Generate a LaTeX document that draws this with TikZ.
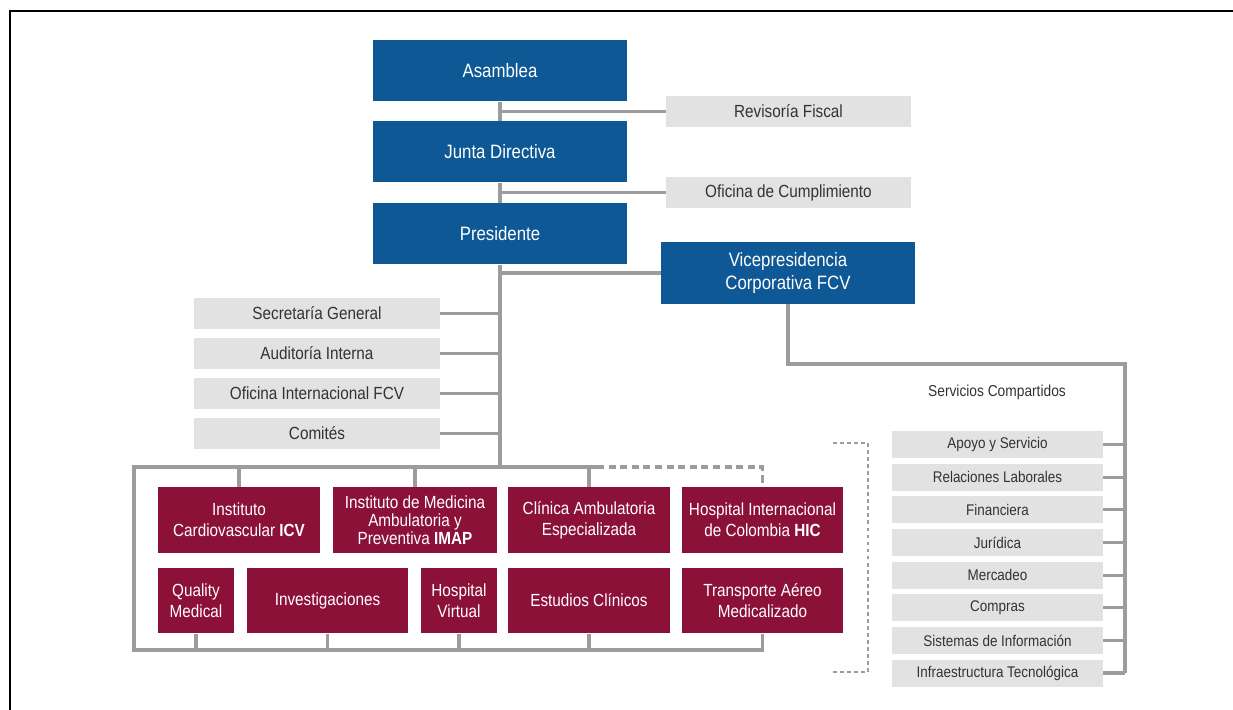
\documentclass[tikz,border=0pt]{standalone}
\usepackage{fontspec}
\setmainfont{Liberation Sans}[FakeStretch=0.87]
\usepackage{tikz}

\definecolor{fcvblue}{HTML}{0F5896}
\definecolor{fcvred}{HTML}{8C1139}
\definecolor{boxgray}{HTML}{E2E2E2}
\definecolor{linegray}{HTML}{9C9C9C}
\definecolor{textgray}{HTML}{333333}

\begin{document}
\begin{tikzpicture}[x=0.2mm, y=-0.2mm,
  govbox/.style={fill=fcvblue, text=white, inner sep=0pt, align=center,
    minimum width=50.8mm, minimum height=12.2mm, font=\fontsize{11}{13.5}\selectfont},
  staffbox/.style={fill=boxgray, text=textgray, inner sep=0pt,
    minimum width=49mm, minimum height=6.2mm, font=\fontsize{10}{12}\selectfont},
  unitbox/.style={fill=fcvred, text=white, inner sep=0pt, align=center,
    minimum width=32.4mm, minimum height=13.1mm, font=\fontsize{10}{11.8}\selectfont},
  sharedbox/.style={fill=boxgray, text=textgray, inner sep=0pt,
    minimum width=42.2mm, minimum height=5.4mm, font=\fontsize{8.8}{10}\selectfont},
  link/.style={draw=linegray, line width=1.8pt},
  dashlink/.style={link, dash pattern=on 4pt off 2.6pt},
  dotlink/.style={draw=linegray, line width=1.5pt, dash pattern=on 2.2pt off 1.8pt}]
\useasboundingbox (0,0) rectangle (1233,710);
\draw[line width=1.4pt] (1233,11) -- (10,11) -- (10,710);

% governing bodies
\node[govbox] (asamblea) at (500,71) {Asamblea};
\node[govbox] (junta) at (500,152) {Junta Directiva};
\node[govbox] (presidente) at (500,234) {Presidente};
\node[govbox] (vice) at (788,273) {Vicepresidencia\\Corporativa FCV};
\node[staffbox] (revisoria) at (788.5,111.5) {Revisoría Fiscal};
\node[staffbox] (cumplimiento) at (788.5,192.5) {Oficina de Cumplimiento};

% staff offices
\node[staffbox, minimum width=49.2mm] (secretaria) at (317,313.5) {Secretaría General};
\node[staffbox, minimum width=49.2mm] (auditoria) at (317,353.5) {Auditoría Interna};
\node[staffbox, minimum width=49.2mm] (internacional) at (317,393.5) {Oficina Internacional FCV};
\node[staffbox, minimum width=49.2mm] (comites) at (317,433.5) {Comités};

% business units
\node[unitbox] (icv) at (239,520) {Instituto\\Cardiovascular \textbf{ICV}};
\node[unitbox, minimum width=32.8mm, font=\fontsize{10}{10.4}\selectfont] (imap) at (415,520)
  {Instituto de Medicina\\Ambulatoria y\\Preventiva \textbf{IMAP}};
\node[unitbox] (clinica) at (589,520) {Clínica Ambulatoria\\Especializada};
\node[unitbox, minimum width=32.2mm] (hic) at (762.5,520) {Hospital Internacional\\de Colombia \textbf{HIC}};
\node[unitbox, minimum width=15.2mm] (quality) at (196,600.5) {Quality\\Medical};
\node[unitbox, minimum width=32.2mm] (investigaciones) at (327.5,600.5) {Investigaciones};
\node[unitbox, minimum width=15.2mm] (virtual) at (459,600.5) {Hospital\\Virtual};
\node[unitbox] (estudios) at (589,600.5) {Estudios Clínicos};
\node[unitbox, minimum width=32.2mm] (transporte) at (762.5,600.5) {Transporte Aéreo\\Medicalizado};

% shared services
\node[text=textgray, font=\fontsize{9}{11}\selectfont] (servicios) at (997,392) {Servicios Compartidos};
\foreach \name [count=\i from 0] in {Apoyo y Servicio, Relaciones Laborales, Financiera,
    Jurídica, Mercadeo, Compras, Sistemas de Información, Infraestructura Tecnológica}
  \node[sharedbox] (sc\i) at (997.5,444.5+32.65*\i) {\name};

\coordinate (topbar) at (134,467);
\coordinate (split) at (597,467);
\coordinate (bottombar) at (134,650);
\coordinate (scbar) at (1125,364);

% main line
\draw[link] (asamblea) -- (junta);
\draw[link] (junta) -- (presidente);
\draw[link] (presidente.south) -- (presidente.south |- topbar);
\draw[link] (revisoria.west -| asamblea.south) -- (revisoria.west);
\draw[link] (cumplimiento.west -| junta.south) -- (cumplimiento.west);
\draw[link] (vice.west -| presidente.south) -- (vice.west);
\foreach \n in {secretaria, auditoria, internacional, comites}
  \draw[link] (\n.east) -- (\n.east -| presidente.south);

% frame around the units
\draw[link] (split) -- (topbar) -- (bottombar) -- (bottombar -| transporte.south) -- (transporte.south);
\draw[dashlink] (split) -- (split -| hic.north) -- (hic.north);
\foreach \n in {icv, imap, clinica}
  \draw[link] (\n.north) -- (\n.north |- topbar);
\foreach \n in {quality, investigaciones, virtual, estudios}
  \draw[link] (\n.south) -- (\n.south |- bottombar);

% shared services bar
\draw[link] (vice.south) -- (vice.south |- scbar) -- (scbar) -- (scbar |- sc7.east);
\foreach \i in {0,...,7}
  \draw[link] (sc\i.east) -- (sc\i.east -| scbar);

% dotted bracket
\coordinate (bt) at (833,443);
\coordinate (bb) at (833,672);
\draw[dotlink] (bt) -- (868,443) -- (868,672) -- (bb);
\end{tikzpicture}
\end{document}
